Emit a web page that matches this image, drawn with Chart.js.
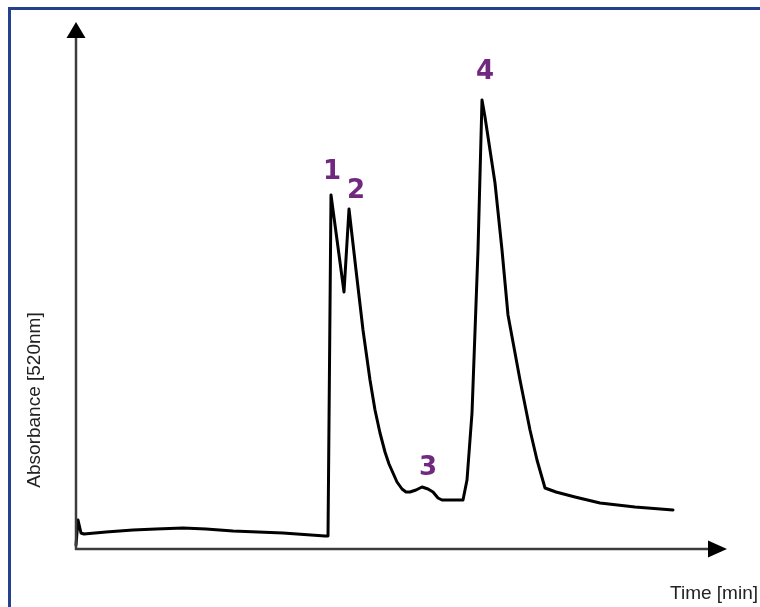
<!DOCTYPE html>
<html>
<head>
<meta charset="utf-8">
<script src="https://cdn.jsdelivr.net/npm/chart.js@4.4.1/dist/chart.umd.min.js"></script>
<style>
	html, body { margin: 0; padding: 0; background: #fff; }
	#wrap { position: relative; width: 760px; height: 607px; overflow: hidden; }
	#frame {
		position: absolute; left: 8px; top: 7px; right: -10px; bottom: -10px;
		border-top: 3px solid #24408e; border-left: 3px solid #24408e;
		pointer-events: none;
	}
	canvas { position: absolute; left: 0; top: 0; }
</style>
</head>
<body>
<div id="wrap">
	<canvas id="chromatogram" width="760" height="607"></canvas>
	<div id="frame"></div>
</div>
<script>
// time [min] and absorbance readings
const times = [
	0, 0.2, 0.5, 0.8, 3.0, 5.7, 8.0, 10.7, 13.0, 15.7, 20.7, 24.9, 25.2, 25.5,
	26.8, 27.3, 28.0, 28.7, 29.4, 29.9, 30.4, 30.9, 31.3, 31.7, 32.1, 32.6, 33.0,
	33.4, 34.0, 34.6, 35.2, 35.7, 36.2, 36.6, 38.7, 39.1, 39.6, 40.2, 40.6,
	40.9, 41.9, 42.6, 43.2, 44.4, 45.4, 46.1, 46.9, 48.0, 49.9, 52.4, 55.9,
	59.7,
];
const absorbance = [
	0.4, 2.9, 1.6, 1.5, 1.7, 1.9, 2.0, 2.1, 2.0, 1.8, 1.6, 1.3, 1.3, 35.4,
	25.7, 34.0, 27.9, 21.9, 16.9, 13.9, 11.6, 9.7, 8.5, 7.6, 6.7, 6.0, 5.7,
	5.7, 5.9, 6.2, 6.0, 5.7, 5.1, 4.9, 4.9, 6.9, 13.6, 29.9, 44.9,
	43.2, 36.6, 29.9, 23.4, 16.9, 11.9, 8.9, 6.1, 5.7, 5.2, 4.6, 4.2,
	3.9,
];

// peak numbers and where their labels sit (data units)
const peakLabels = ['1', '2', '3', '4'];
const peakLabelTimes = [25.6, 28.0, 35.2, 40.9];
const peakLabelValues = [37.7, 35.8, 8.1, 47.7];

const xTitle = 'Time [min]';
const yTitle = 'Absorbance [520nm]';

const axesPlugin = {
	id: 'axesPlugin',
	afterDraw(chart) {
		const { ctx, chartArea, scales } = chart;
		const x0 = scales.x.getPixelForValue(0);
		const y0 = scales.y.getPixelForValue(0);
		ctx.save();

		// axis lines with arrow heads
		ctx.strokeStyle = '#3c3c3c';
		ctx.fillStyle = '#000';
		ctx.lineWidth = 2.5;
		ctx.beginPath();
		ctx.moveTo(x0, y0 + 1);
		ctx.lineTo(x0, chartArea.top + 14);
		ctx.moveTo(x0 - 1, y0);
		ctx.lineTo(chartArea.right - 16, y0);
		ctx.stroke();

		ctx.beginPath();
		ctx.moveTo(x0, chartArea.top);
		ctx.lineTo(x0 - 9.5, chartArea.top + 16);
		ctx.lineTo(x0 + 9.5, chartArea.top + 16);
		ctx.closePath();
		ctx.fill();

		ctx.beginPath();
		ctx.moveTo(chartArea.right + 1, y0);
		ctx.lineTo(chartArea.right - 18, y0 - 8.5);
		ctx.lineTo(chartArea.right - 18, y0 + 8.5);
		ctx.closePath();
		ctx.fill();

		// axis titles
		ctx.fillStyle = '#222';
		ctx.font = '19px "Liberation Sans", Arial, sans-serif';
		ctx.textAlign = 'right';
		ctx.textBaseline = 'middle';
		ctx.fillText(xTitle, 758, 594);

		ctx.translate(35, 400);
		ctx.rotate(-Math.PI / 2);
		ctx.textAlign = 'center';
		ctx.fillText(yTitle, 0, 0);
		ctx.setTransform(1, 0, 0, 1, 0, 0);

		// peak numbers
		ctx.fillStyle = '#71287f';
		ctx.font = 'bold 26px "DejaVu Sans", Verdana, sans-serif';
		ctx.textAlign = 'center';
		ctx.textBaseline = 'middle';
		peakLabels.forEach((label, i) => {
			ctx.fillText(
				label,
				scales.x.getPixelForValue(peakLabelTimes[i]),
				scales.y.getPixelForValue(peakLabelValues[i])
			);
		});
		ctx.restore();
	},
};

document.addEventListener('DOMContentLoaded', () => {
	const ctx = document.getElementById('chromatogram').getContext('2d');
	new Chart(ctx, {
		type: 'line',
		data: {
			datasets: [
				{
					data: times.map((t, i) => ({ x: t, y: absorbance[i] })),
					borderColor: '#000',
					borderWidth: 3,
					pointRadius: 0,
					tension: 0,
					borderJoinStyle: 'round',
					borderCapStyle: 'round',
					fill: false,
					clip: false,
				},
			],
		},
		options: {
			responsive: false,
			animation: false,
			layout: { padding: { left: 76, top: 22, right: 34, bottom: 58 } },
			scales: {
				x: { type: 'linear', min: 0, max: 65, display: false },
				y: { type: 'linear', min: 0, max: 52.7, display: false },
			},
			plugins: {
				legend: { display: false },
				tooltip: { enabled: false },
			},
		},
		plugins: [axesPlugin],
	});
});
</script>
</body>
</html>
